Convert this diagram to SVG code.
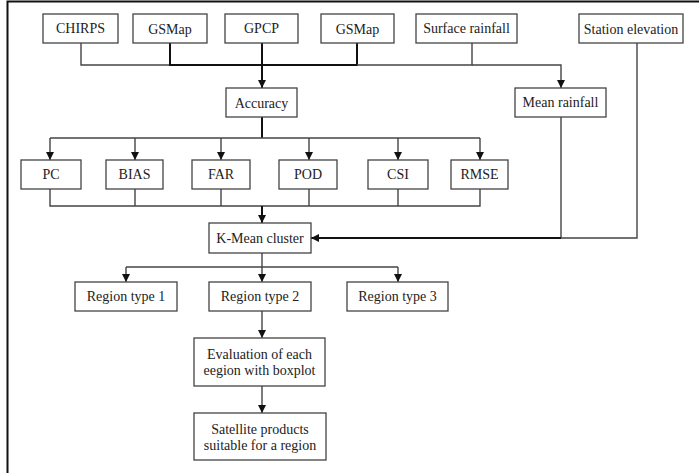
<svg xmlns="http://www.w3.org/2000/svg" width="699" height="473" viewBox="0 0 699 473">
<defs>
<style>
.box{fill:#fff;stroke:#444;stroke-width:1.3}
.t{font-family:"Liberation Serif","Times New Roman",serif;font-size:14px;fill:#222;text-anchor:middle;dominant-baseline:central}
.c{fill:none;stroke:#444;stroke-width:1.4}
.k{fill:none;stroke:#111;stroke-width:2}
</style>
<marker id="ah" viewBox="0 0 10 10" refX="10" refY="5" markerWidth="8" markerHeight="8" markerUnits="userSpaceOnUse" orient="auto">
<path d="M0,0 L10,5 L0,10 z" fill="#111"/>
</marker>
</defs>
<rect width="699" height="473" fill="#fff"/>
<path d="M7.5,473 V1.5 H699" fill="none" stroke="#111" stroke-width="2"/>
<g id="connectors">
<path class="c" d="M81,43 V65 H170"/>
<path class="k" d="M170,43 V65 H357 V43"/>
<path class="c" d="M357,65 H472 V43"/>
<path class="c" d="M472,65 H561 V88" marker-end="url(#ah)"/>
<path class="k" d="M262,43 V88" marker-end="url(#ah)"/>
<path class="k" d="M262,117 V138"/>
<path class="c" d="M50,138 H480"/>
<path class="c" d="M50,138 V160" marker-end="url(#ah)"/>
<path class="c" d="M135,138 V160" marker-end="url(#ah)"/>
<path class="c" d="M221,138 V160" marker-end="url(#ah)"/>
<path class="c" d="M309,138 V160" marker-end="url(#ah)"/>
<path class="c" d="M398,138 V160" marker-end="url(#ah)"/>
<path class="c" d="M480,138 V160" marker-end="url(#ah)"/>
<path class="c" d="M50,189 V206 H480 V189"/>
<path class="c" d="M135,189 V206"/>
<path class="c" d="M221,189 V206"/>
<path class="c" d="M309,189 V206"/>
<path class="c" d="M398,189 V206"/>
<path class="k" d="M262,206 V223" marker-end="url(#ah)"/>
<path class="c" d="M561,117 V238"/>
<path class="c" d="M637,43 V238 H561"/>
<path class="k" d="M561,238 H311" marker-end="url(#ah)"/>
<path class="c" d="M262,253 V267"/>
<path class="c" d="M126,267 H398"/>
<path class="c" d="M126,267 V282" marker-end="url(#ah)"/>
<path class="c" d="M262,267 V282" marker-end="url(#ah)"/>
<path class="c" d="M398,267 V282" marker-end="url(#ah)"/>
<path class="c" d="M262,311 V338" marker-end="url(#ah)"/>
<path class="c" d="M262,386 V413" marker-end="url(#ah)"/>
</g>
<g id="chirps"><rect class="box" x="43" y="14" width="75" height="29"/><text class="t" x="80.5" y="28.5">CHIRPS</text></g>
<g id="gsmap1"><rect class="box" x="133" y="14" width="74" height="29"/><text class="t" x="170" y="29.5">GSMap</text></g>
<g id="gpcp"><rect class="box" x="225" y="14" width="73" height="29"/><text class="t" x="261.5" y="28.5">GPCP</text></g>
<g id="gsmap2"><rect class="box" x="321" y="14" width="73" height="29"/><text class="t" x="357.5" y="29.5">GSMap</text></g>
<g id="surface"><rect class="box" x="416" y="14" width="101" height="29"/><text class="t" x="466.5" y="28.5">Surface rainfall</text></g>
<g id="station"><rect class="box" x="579" y="14" width="104" height="29"/><text class="t" x="631" y="29.5">Station  elevation</text></g>
<g id="accuracy"><rect class="box" x="226" y="88" width="71" height="29"/><text class="t" x="261.5" y="103">Accuracy</text></g>
<g id="mean"><rect class="box" x="515" y="88" width="91" height="29"/><text class="t" x="560.5" y="102.5">Mean rainfall</text></g>
<g id="pc"><rect class="box" x="21" y="160" width="60" height="29"/><text class="t" x="51" y="174.5">PC</text></g>
<g id="bias"><rect class="box" x="106" y="160" width="57" height="29"/><text class="t" x="134.5" y="174.5">BIAS</text></g>
<g id="far"><rect class="box" x="192" y="160" width="58" height="29"/><text class="t" x="221" y="174.5">FAR</text></g>
<g id="pod"><rect class="box" x="279" y="160" width="58" height="29"/><text class="t" x="308" y="174.5">POD</text></g>
<g id="csi"><rect class="box" x="368" y="160" width="60" height="29"/><text class="t" x="398" y="174.5">CSI</text></g>
<g id="rmse"><rect class="box" x="451" y="160" width="57" height="29"/><text class="t" x="479.5" y="174.5">RMSE</text></g>
<g id="kmean"><rect class="box" x="209" y="223" width="102" height="30"/><text class="t" x="260" y="238">K-Mean cluster</text></g>
<g id="region1"><rect class="box" x="75" y="282" width="102" height="29"/><text class="t" x="126" y="296.5">Region type 1</text></g>
<g id="region2"><rect class="box" x="209" y="282" width="102" height="29"/><text class="t" x="260" y="296.5">Region type 2</text></g>
<g id="region3"><rect class="box" x="347" y="282" width="101" height="29"/><text class="t" x="397.5" y="296.5">Region type 3</text></g>
<g id="evaluation"><rect class="box" x="194" y="338" width="131" height="48"/><text class="t" x="259.5" y="354">Evaluation  of  each</text><text class="t" x="259.5" y="370">eegion  with  boxplot</text></g>
<g id="satellite"><rect class="box" x="194" y="413" width="132" height="47"/><text class="t" x="260" y="429">Satellite  products</text><text class="t" x="260" y="445">suitable  for  a region</text></g>
</svg>
